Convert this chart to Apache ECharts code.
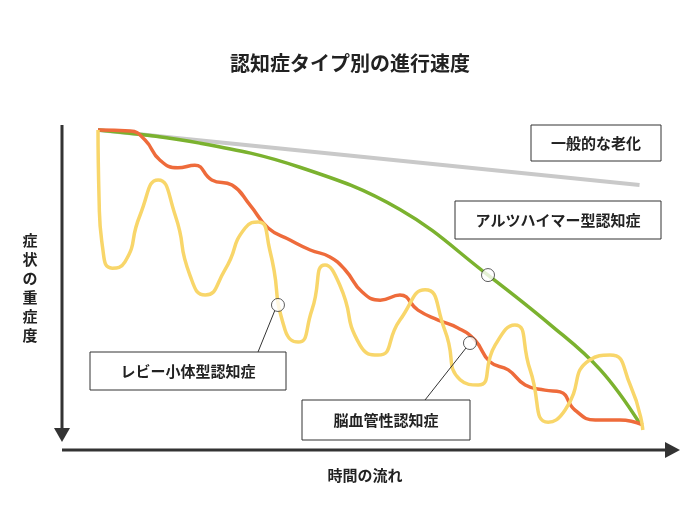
<!DOCTYPE html>
<html><head><meta charset="utf-8">
<script src="https://cdn.jsdelivr.net/npm/echarts@6/dist/echarts.min.js"></script>
<style>html,body{margin:0;background:#fff}#c{width:700px;height:525px}</style>
</head><body><div id="c"></div>
<script>
const titleText = "認知症タイプ別の進行速度";
const yAxisLabel = "症状の重症度";
const xAxisLabel = "時間の流れ";
const seriesNames = ["一般的な老化","アルツハイマー型認知症","レビー小体型認知症","脳血管性認知症"];
const normalAging = [[0,0.7],[99,18.9]];
const alzheimer = [[0,0.7],[18.6,5],[36.9,13],[55.2,27],[71.3,48.7],[82.6,65],[91.8,80],[99,97.7]];
const lewy = [[0,0.7],[0.2,23.8],[0.9,40.4],[2.6,46.4],[4.9,44.4],[7.7,28.8],[11,17.2],[14.1,28.8],[16.8,48.7],[19.6,55.3],[23.2,47],[26.9,33.1],[29.3,31.1],[31.4,40.4],[34.2,66.9],[36.6,70.9],[39.1,60.3],[41.5,45.4],[44.2,52],[47.9,71.9],[51.2,75.2],[55.2,63.6],[59.8,53.6],[63.4,66.9],[66.2,83.4],[69.5,85.1],[72.6,71.9],[76.2,65.2],[79,80.1],[82.3,97.4],[85.4,93.4],[89.9,76.8],[93.6,75.2],[97.3,85.1],[99.6,100]];
const vascular = [[0,0.7],[5.9,1],[8.6,4],[11.3,10.6],[14.6,13.2],[17.7,12.3],[20.8,17.2],[24.5,18.9],[27.8,25.5],[31.1,33.1],[35.1,37.1],[38.8,40.4],[42.4,42.7],[45.2,47],[48.3,54.3],[51.6,57],[55.2,55.3],[58.5,60.3],[62.2,63.6],[65.8,66.2],[68.9,70.2],[71.7,77.5],[75,80.1],[78.1,85.1],[81.7,86.8],[84.5,87.4],[87.2,93.4],[90.9,96.7],[95.4,96.7],[99.6,98.3]];
const markers = [[71.3,48.7],[32.9,58.6],[68,71.2]];

const chart = echarts.init(document.getElementById('c'));
const F = '"Noto Sans CJK JP", sans-serif';
function box(x,y,w,h,t){return [
 {type:'rect',shape:{x:x,y:y,width:w,height:h},style:{fill:'#fff',stroke:'#333',lineWidth:1},z:10},
 {type:'text',x:x+w/2,y:y+h/2,style:{text:t,font:'bold 15px '+F,fill:'#222',align:'center',verticalAlign:'middle'},z:11}];}
chart.setOption({
 animation:false,
 title:{text:titleText,left:'center',top:48,textStyle:{fontFamily:F,fontSize:20,fontWeight:'bold',color:'#222'}},
 grid:{left:98,right:55,top:128,bottom:95},
 xAxis:{type:'value',min:0,max:100,show:false},
 yAxis:{type:'value',min:0,max:100,inverse:true,show:false},
 series:[
  {name:seriesNames[0],type:'line',data:normalAging,symbol:'none',lineStyle:{color:'#c9c9c9',width:4}},
  {name:seriesNames[1],type:'line',data:alzheimer,smooth:0.4,symbol:'none',lineStyle:{color:'#7bb22f',width:3.5}},
  {name:seriesNames[3],type:'line',data:vascular,smooth:0.5,symbol:'none',lineStyle:{color:'#ee6b3b',width:3.5}},
  {name:seriesNames[2],type:'line',data:lewy,smooth:0.6,symbol:'none',lineStyle:{color:'#f8d66a',width:3.5}},
  {type:'scatter',data:markers,symbolSize:13,itemStyle:{color:'#fff',borderColor:'#333',borderWidth:1},z:12}
 ],
 graphic:[
  {type:'line',shape:{x1:62,y1:125,x2:62,y2:432},style:{stroke:'#333',lineWidth:3}},
  {type:'polygon',shape:{points:[[54,428],[70,428],[62,442]]},style:{fill:'#333'}},
  {type:'line',shape:{x1:62,y1:450,x2:668,y2:450},style:{stroke:'#333',lineWidth:3}},
  {type:'polygon',shape:{points:[[665,442],[665,458],[680,450]]},style:{fill:'#333'}},
  {type:'text',x:30,y:288,style:{text:yAxisLabel.split('').join('\n'),font:'bold 15px '+F,fill:'#222',align:'center',verticalAlign:'middle',lineHeight:19}},
  {type:'text',x:365,y:475,style:{text:xAxisLabel,font:'bold 15px '+F,fill:'#222',align:'center',verticalAlign:'middle'}},
  {type:'line',shape:{x1:275,y1:310,x2:258,y2:352},style:{stroke:'#333',lineWidth:1},z:9},
  {type:'line',shape:{x1:466,y1:348,x2:425,y2:400},style:{stroke:'#333',lineWidth:1},z:9},
  ...box(531,125,130,36,seriesNames[0]),
  ...box(455,201,206,38,seriesNames[1]),
  ...box(90,352,196,38,seriesNames[2]),
  ...box(302,400,168,40,seriesNames[3])
 ]
});
</script></body></html>
